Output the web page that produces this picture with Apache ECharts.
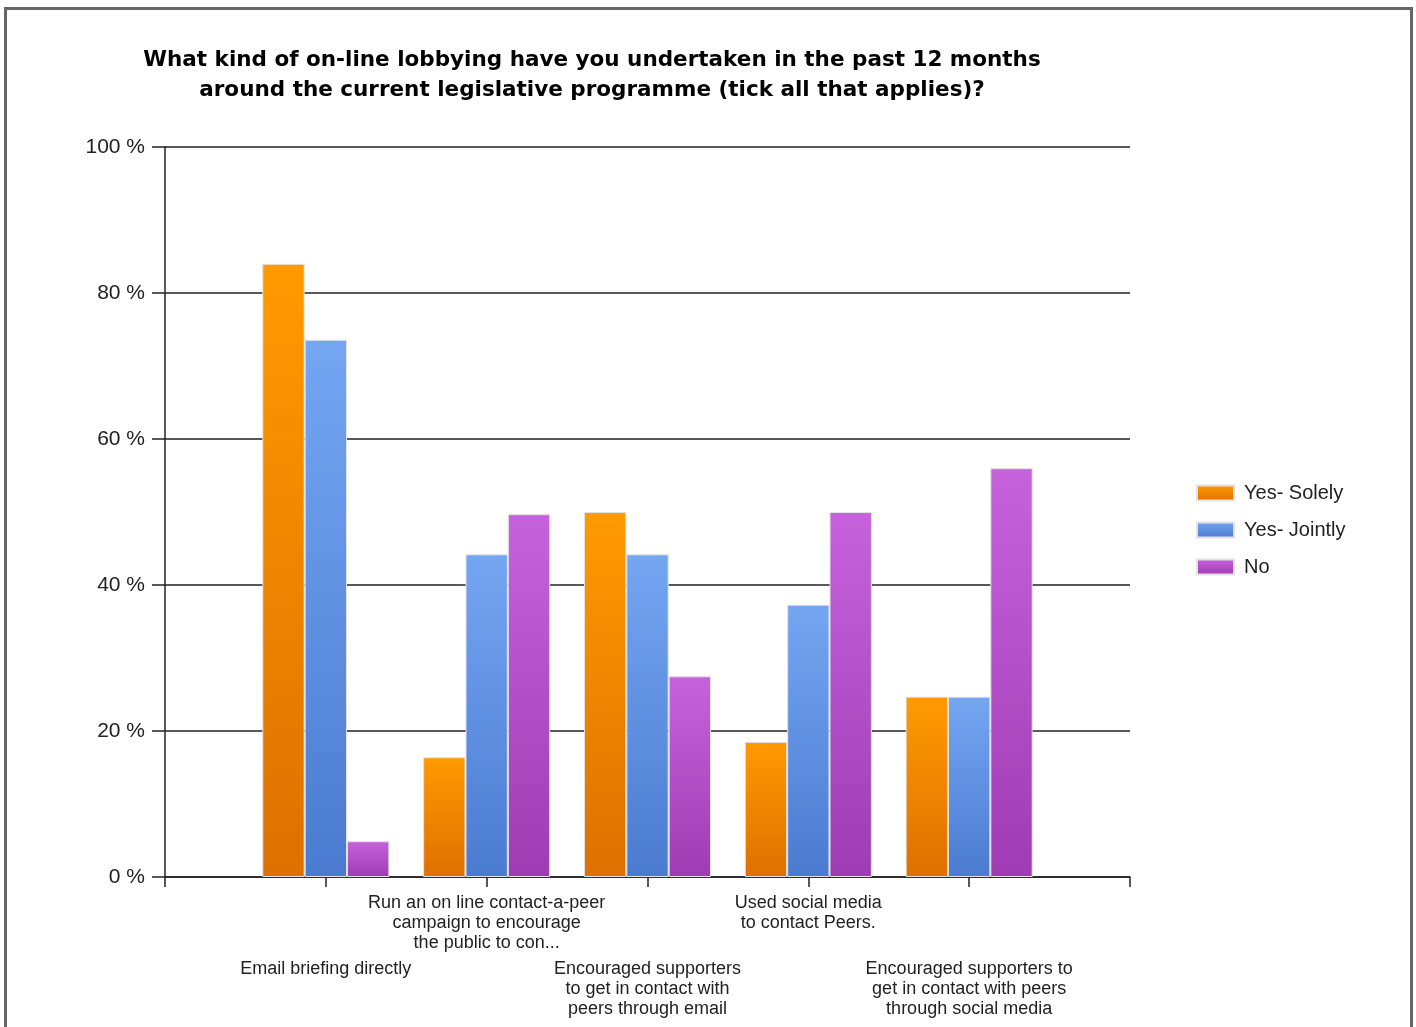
<!DOCTYPE html>
<html>
<head>
<meta charset="utf-8">
<title>On-line lobbying</title>
<script src="https://cdn.jsdelivr.net/npm/echarts@6/dist/echarts.min.js"></script>
<style>
  html, body { margin: 0; padding: 0; background: #fff; }
  #chart { width: 1416px; height: 1027px; }
</style>
</head>
<body>
<div id="chart"></div>
<script>
// Survey categories (blank entries pad the axis on both ends)
const categories = [
  '',
  'Email briefing directly',
  'Run an on line contact-a-peer\ncampaign to encourage\nthe public to con...',
  'Encouraged supporters\nto get in contact with\npeers through email',
  'Used social media\nto contact Peers.',
  'Encouraged supporters to\nget in contact with peers\nthrough social media',
  ''
];
// Labels drawn on the lower row of the staggered axis
const lowerRow = [1, 3, 5];

const seriesNames = ['Yes- Solely', 'Yes- Jointly', 'No'];
const solely  = [null, 84,   16.4, 50,   18.5, 24.7, null];
const jointly = [null, 73.6, 44.2, 44.2, 37.3, 24.7, null];
const no      = [null, 4.9,  49.7, 27.5, 50,   56,   null];

const yTicks = { min: 0, max: 100, interval: 20 };

function grad(top, bottom) {
  return new echarts.graphic.LinearGradient(0, 0, 0, 1, [
    { offset: 0, color: top },
    { offset: 1, color: bottom }
  ]);
}
const fills = [
  grad('#ff9a00', '#de7000'),
  grad('#75a6f2', '#4a7bd0'),
  grad('#c663dc', '#9f3cb4')
];

const chart = echarts.init(document.getElementById('chart'), null, { renderer: 'canvas' });

function bar(name, data, i) {
  return {
    name: name,
    type: 'bar',
    data: data,
    barGap: '0%',
    barCategoryGap: '21%',
    itemStyle: { color: fills[i], borderColor: '#e2e2e2', borderWidth: 1 },
    emphasis: { disabled: true }
  };
}

chart.setOption({
  animation: false,
  backgroundColor: '#fff',
  title: {
    text: 'What kind of on-line lobbying have you undertaken in the past 12 months\naround the current legislative programme (tick all that applies)?',
    left: 587,
    top: 40,
    textAlign: 'center',
    textStyle: {
      fontFamily: 'DejaVu Sans',
      fontWeight: 'bold',
      fontSize: 21.5,
      lineHeight: 30,
      color: '#000'
    }
  },
  legend: {
    orient: 'vertical',
    left: 1196,
    top: 483,
    padding: 0,
    itemWidth: 37,
    itemHeight: 15,
    itemGap: 17,
    icon: 'rect',
    textStyle: { fontFamily: 'Liberation Sans', fontSize: 20, color: '#222', padding: [0, 0, 0, 5] },
    data: seriesNames
  },
  grid: { left: 165, right: 286, top: 147, bottom: 150 },
  xAxis: {
    type: 'category',
    data: categories,
    boundaryGap: false,
    axisLine: { lineStyle: { color: '#222', width: 1.5 } },
    axisTick: { length: 10, lineStyle: { color: '#222', width: 1.5 } },
    splitLine: { show: false },
    axisLabel: {
      interval: 0,
      margin: 16,
      fontFamily: 'Liberation Sans',
      fontSize: 18,
      lineHeight: 20,
      color: '#222',
      align: 'center',
      formatter: function (value, idx) {
        if (!value) return '';
        const lines = value.split('\n').map(function (l) { return '{t|' + l + '}'; }).join('\n');
        return lowerRow.indexOf(idx) >= 0 ? '{gap| }\n' + lines : lines;
      },
      rich: {
        gap: { lineHeight: 66, fontSize: 18 },
        t: { fontFamily: 'Liberation Sans', fontSize: 18, lineHeight: 20, color: '#222' }
      }
    }
  },
  yAxis: {
    type: 'value',
    min: yTicks.min,
    max: yTicks.max,
    interval: yTicks.interval,
    axisLine: { show: true, lineStyle: { color: '#222', width: 1.5 } },
    axisTick: { show: true, length: 13, lineStyle: { color: '#222', width: 1.5 } },
    splitLine: { show: true, lineStyle: { color: '#222', width: 1.5 } },
    axisLabel: {
      margin: 20,
      fontFamily: 'Liberation Sans',
      fontSize: 21,
      color: '#222',
      formatter: '{value} %'
    }
  },
  graphic: [{
    type: 'rect',
    silent: true,
    shape: { x: 5.5, y: 8.5, width: 1406, height: 1100 },
    style: { fill: 'none', stroke: '#666', lineWidth: 3 }
  }],
  series: [
    bar(seriesNames[0], solely, 0),
    bar(seriesNames[1], jointly, 1),
    bar(seriesNames[2], no, 2)
  ]
});
</script>
</body>
</html>
